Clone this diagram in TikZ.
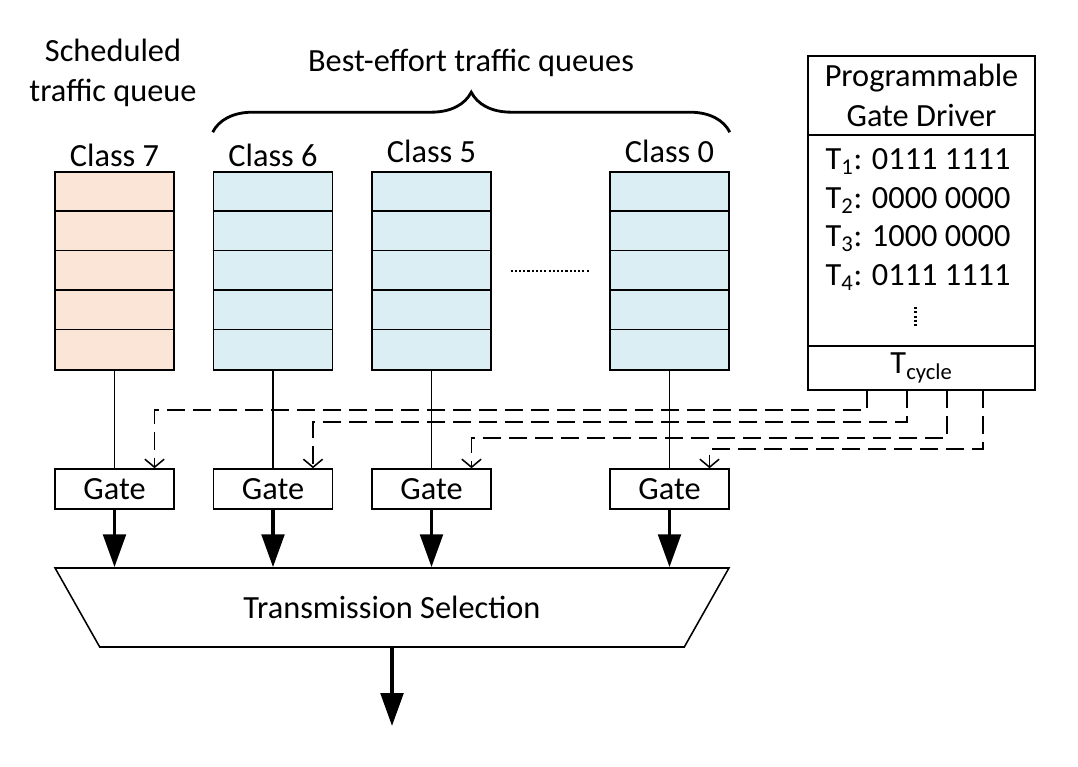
\documentclass[tikz,border=0pt]{standalone}
\usepackage{fontspec}
\setmainfont{Carlito}
\usetikzlibrary{arrows.meta,calc,positioning,decorations.pathreplacing,shapes.geometric}
\definecolor{sched}{HTML}{FBE5D6}
\definecolor{besteff}{HTML}{DAEEF3}
\tikzset{
    queue-box/.style = {draw, line width=1.1pt, minimum width=2.975cm, minimum height=4.95cm, inner sep=0pt},
    sched-queue/.style = {queue-box, fill=sched},
    be-queue/.style = {queue-box, fill=besteff},
    gate-box/.style = {draw, line width=1.1pt, minimum width=2.975cm, minimum height=1cm, inner sep=0pt},
    driver-box/.style = {draw, line width=1.1pt, minimum width=5.675cm, inner sep=0pt, outer sep=0pt},
    big-arrow/.style = {line width=2.8pt, -{Triangle[length=0.82cm,width=0.56cm]}},
    ctrl-line/.style = {line width=1.1pt, dash pattern=on 0.45cm off 0.2cm, -{Straight Barb[length=0.2cm,width=0.48cm]}},
    dots/.style = {line width=1.5pt, dash pattern=on 1.5pt off 1.5pt},
}

\begin{document}
\begin{tikzpicture}[x=0.025cm, y=-0.025cm, font=\fontsize{23}{28}\selectfont]
\useasboundingbox (0,0) rectangle (1078,767);

% queues
\node[sched-queue] (q7) at (114.5,271) {};
\node[be-queue] (q6) at (273,271) {};
\node[be-queue] (q5) at (431.5,271) {};
\node[be-queue] (q0) at (669.5,271) {};
\foreach \q in {q7,q6,q5,q0}
    \foreach \k in {1,...,4}
        \draw[line width=1.1pt] ([yshift=-\k*0.99cm]\q.north west) -- ([yshift=-\k*0.99cm]\q.north east);
\draw[dots] ($(q5.east)!0.16!(q0.west)$) -- ($(q5.east)!0.84!(q0.west)$);

\node (c7) at (114.5,155) {Class 7};
\node (c6) at (273,155) {Class 6};
\node (c5) at (431.5,151) {Class 5};
\node (c0) at (669.5,151) {Class 0};

\node[align=center] (sched) at (113,73) {Scheduled\\traffic queue};
\node (be) at (471,63) {Best-effort traffic queues};
\draw[line width=2pt, decorate, decoration={brace, amplitude=1cm}] ([yshift=0.975cm]q6.north west) -- ([yshift=0.975cm]q0.north east);

% gates
\node[gate-box] (g7) at (114.5,489) {Gate};
\node[gate-box] (g6) at (273,489) {Gate};
\node[gate-box] (g5) at (431.5,489) {Gate};
\node[gate-box] (g0) at (669.5,489) {Gate};
\foreach \n in {7,6,5,0}
    \draw[line width=1.1pt] (q\n) -- (g\n);

% transmission selection
\node[draw, line width=1.1pt, trapezium, trapezium angle=45, shape border rotate=180, trapezium stretches=true,
    minimum width=16.85cm, minimum height=1.975cm, inner sep=0pt] (sel) at (392,607.5) {Transmission Selection};
\foreach \n in {7,6,5,0}
    \draw[big-arrow] (g\n.south) -- (g\n.south |- sel.north);
\coordinate (out) at (392,726);
\draw[big-arrow] (sel.south) -- (out);

% gate driver
\node[driver-box, minimum height=1.975cm, align=center] (drv-title) at (921.5,95.5) {Programmable\\Gate Driver};
\node[driver-box, minimum height=5.275cm, below=0pt of drv-title] (drv-table) {};
\node[driver-box, minimum height=1.1cm, below=0pt of drv-table] (drv-cycle) {T\textsubscript{cycle}};
\node[align=center, font=\fontsize{23}{27.4}\selectfont] (drv-slots) at (918,219.5)
    {T\textsubscript{1}: 0111 1111\\T\textsubscript{2}: 0000 0000\\T\textsubscript{3}: 1000 0000\\T\textsubscript{4}: 0111 1111};
\draw[dots] ($(drv-table.south)+(-6,-39)$) -- ++(0,20);

% gate control
\draw[ctrl-line] ([xshift=-1.3625cm]drv-cycle.south) -- ++(0,20) -| ([xshift=1cm]g7.north);
\draw[ctrl-line] ([xshift=-0.3625cm]drv-cycle.south) -- ++(0,32) -| ([xshift=1cm]g6.north);
\draw[ctrl-line] ([xshift=0.6375cm]drv-cycle.south) -- ++(0,48) -| ([xshift=1cm]g5.north);
\draw[ctrl-line] ([xshift=1.5375cm]drv-cycle.south) -- ++(0,59) -| ([xshift=1cm]g0.north);
\end{tikzpicture}
\end{document}
